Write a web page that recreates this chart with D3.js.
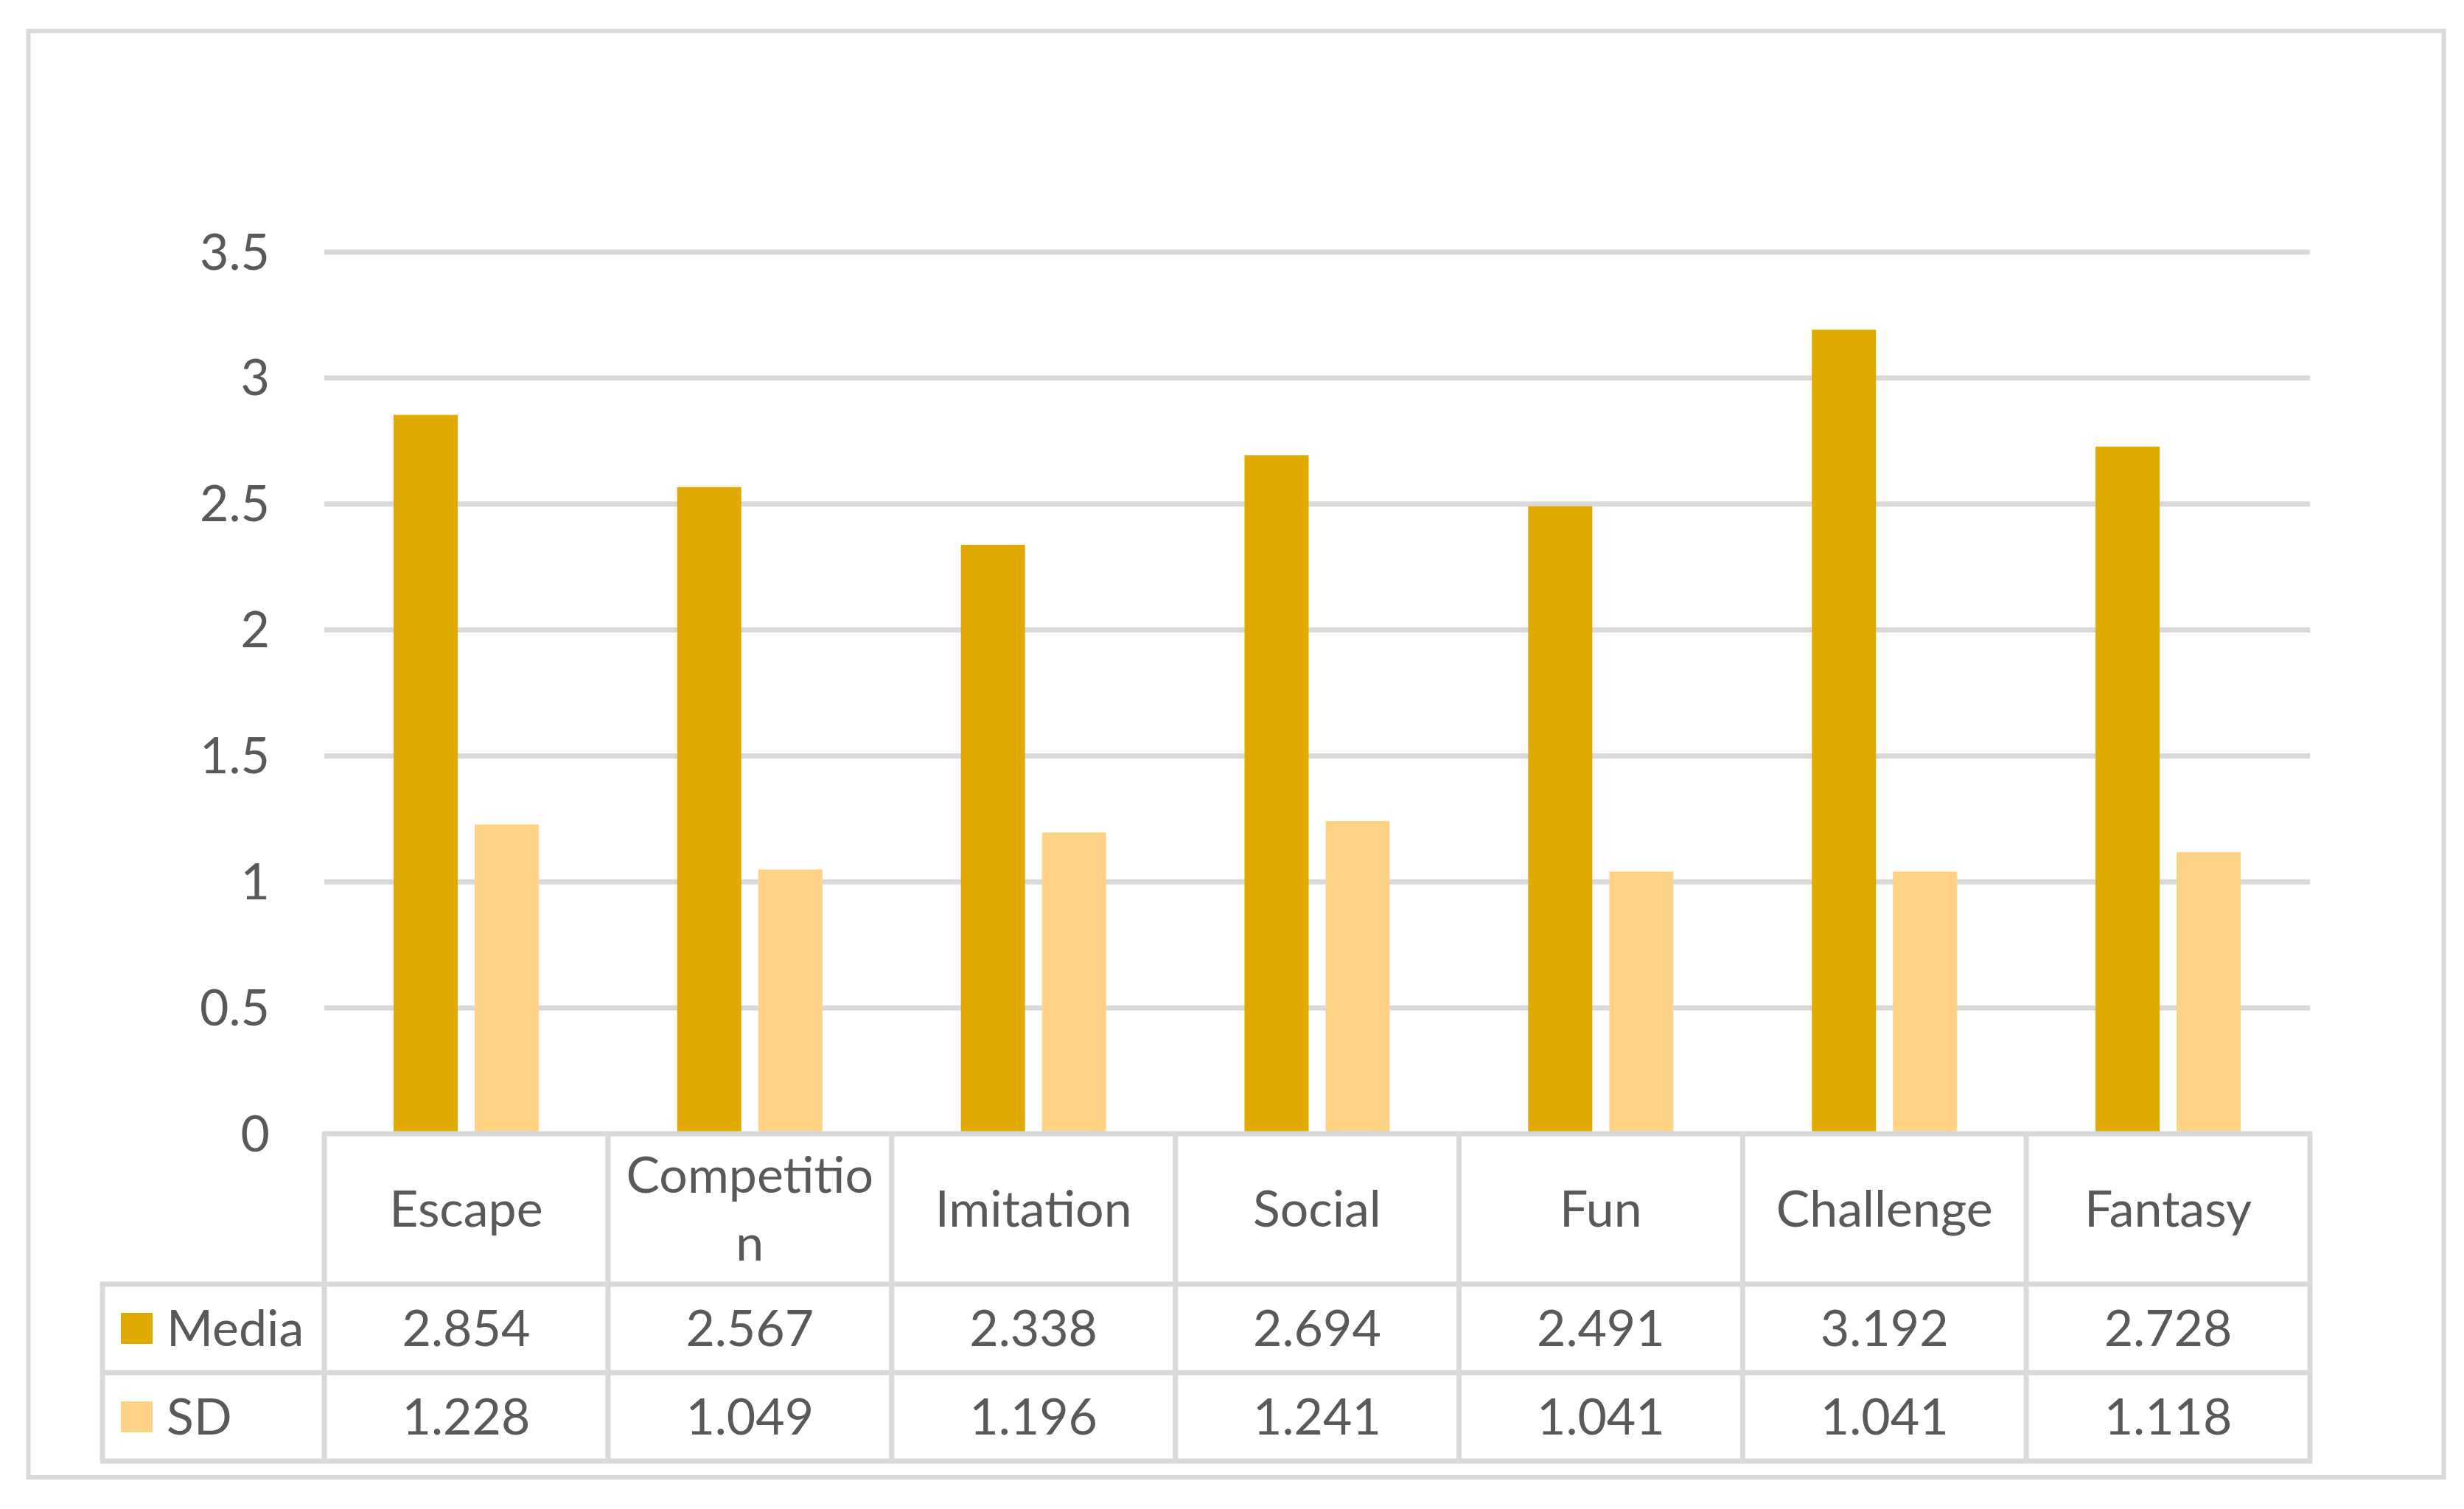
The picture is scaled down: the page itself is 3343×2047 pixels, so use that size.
<!DOCTYPE html>
<html>
<head>
<meta charset="utf-8">
<script src="https://cdn.jsdelivr.net/npm/d3@7/dist/d3.min.js"></script>
<style>
  html, body { margin: 0; padding: 0; background: #fff; }
  svg text { font-family: Lato, "Open Sans", sans-serif; fill: #595959; }
</style>
</head>
<body>
<svg id="chart"></svg>
<script>
var categories = ['Escape', 'Competition', 'Imitation', 'Social', 'Fun', 'Challenge', 'Fantasy'];
var seriesNames = ['Media', 'SD'];
var mediaValues = [2.854, 2.567, 2.338, 2.694, 2.491, 3.192, 2.728];
var sdValues = [1.228, 1.049, 1.196, 1.241, 1.041, 1.041, 1.118];
var yTicks = [0, 0.5, 1, 1.5, 2, 2.5, 3, 3.5];

var colors = { Media: '#e1aa00', SD: '#fed386' };
var gridColor = '#d9d9d9';

var width = 3343;
var height = 2047;
var fontSize = 68;

var plot = { left: 440, right: 3134, top: 342, bottom: 1538 };
var table = { legendLeft: 139, headerBottom: 1742, rowHeight: 120 };

var svg = d3.select('#chart')
  .attr('width', width)
  .attr('height', height)
  .attr('viewBox', '0 0 ' + width + ' ' + height);

var seriesValues = { Media: mediaValues, SD: sdValues };

var x = d3.scaleBand()
  .domain(categories)
  .range([plot.left, plot.right])
  .paddingInner(0)
  .paddingOuter(0);

var groupWidth = 197;
var x1 = d3.scaleBand()
  .domain(seriesNames)
  .range([0, groupWidth])
  .paddingInner(23 / 110);

var y = d3.scaleLinear()
  .domain([0, 3.5])
  .range([plot.bottom, plot.top]);

// outer chart border
svg.append('rect')
  .attr('x', 38.5).attr('y', 42)
  .attr('width', 3277).attr('height', 1962)
  .attr('fill', 'none')
  .attr('stroke', gridColor)
  .attr('stroke-width', 6);

// gridlines (the zero line is drawn by the table)
svg.append('g')
  .selectAll('line')
  .data(yTicks.filter(function(t) { return t > 0; }))
  .enter().append('line')
  .attr('x1', plot.left).attr('x2', plot.right)
  .attr('y1', function(t) { return y(t); })
  .attr('y2', function(t) { return y(t); })
  .attr('stroke', gridColor)
  .attr('stroke-width', 7);

// y axis labels
var yAxis = d3.axisLeft(y).tickValues(yTicks).tickSize(0).tickPadding(0)
  .tickFormat(function(t) { return String(t); });
var yAxisG = svg.append('g')
  .attr('transform', 'translate(366,0)')
  .call(yAxis);
yAxisG.select('.domain').remove();
yAxisG.selectAll('text')
  .attr('font-size', fontSize)
  .attr('font-family', 'Lato, "Open Sans", sans-serif')
  .attr('fill', '#595959')
  .attr('dy', '0.34em');

// bars
var groups = svg.append('g')
  .selectAll('g')
  .data(categories)
  .enter().append('g')
  .attr('transform', function(c) { return 'translate(' + (x(c) + (x.bandwidth() - groupWidth) / 2) + ',0)'; });

groups.selectAll('rect')
  .data(function(c, i) {
    return seriesNames.map(function(s) { return { series: s, value: seriesValues[s][i] }; });
  })
  .enter().append('rect')
  .attr('x', function(d) { return x1(d.series); })
  .attr('width', x1.bandwidth())
  .attr('y', function(d) { return y(d.value); })
  .attr('height', function(d) { return y(0) - y(d.value); })
  .attr('fill', function(d) { return colors[d.series]; });

// data table
var tableG = svg.append('g');
var rowTop = function(i) { return table.headerBottom + i * table.rowHeight; };
var tableBottom = rowTop(seriesNames.length);

var hLines = [
  { x1: plot.left, x2: plot.right, y: plot.bottom },
  { x1: table.legendLeft, x2: plot.right, y: rowTop(0) },
  { x1: table.legendLeft, x2: plot.right, y: rowTop(1) },
  { x1: table.legendLeft, x2: plot.right, y: tableBottom }
];
tableG.selectAll('line.h')
  .data(hLines)
  .enter().append('line')
  .attr('class', 'h')
  .attr('x1', function(d) { return d.x1 - 3; })
  .attr('x2', function(d) { return d.x2 + 3; })
  .attr('y1', function(d) { return d.y; })
  .attr('y2', function(d) { return d.y; })
  .attr('stroke', gridColor)
  .attr('stroke-width', 7);

var vLines = categories.map(function(c) { return { x: x(c), top: plot.bottom }; });
vLines.push({ x: plot.right, top: plot.bottom });
vLines.push({ x: table.legendLeft, top: rowTop(0) });
tableG.selectAll('line.v')
  .data(vLines)
  .enter().append('line')
  .attr('class', 'v')
  .attr('x1', function(d) { return d.x; })
  .attr('x2', function(d) { return d.x; })
  .attr('y1', function(d) { return d.top; })
  .attr('y2', tableBottom)
  .attr('stroke', gridColor)
  .attr('stroke-width', 7);

// category headers, wrapped by character when too wide for the cell
var headerMid = (plot.bottom + rowTop(0)) / 2;
var lineHeight = 92;
var maxLabel = x.bandwidth() - 30;

var headers = tableG.selectAll('text.header')
  .data(categories)
  .enter().append('text')
  .attr('class', 'header')
  .attr('text-anchor', 'middle')
  .attr('font-size', fontSize)
  .attr('x', function(c) { return x(c) + x.bandwidth() / 2; });

headers.each(function(c) {
  var el = d3.select(this);
  var lines = [];
  var current = '';
  el.text(c);
  if (this.getComputedTextLength() <= maxLabel) {
    lines = [c];
  } else {
    for (var i = 0; i < c.length; i++) {
      el.text(current + c[i]);
      if (this.getComputedTextLength() > maxLabel && current.length) {
        lines.push(current);
        current = c[i];
      } else {
        current += c[i];
      }
    }
    lines.push(current);
  }
  el.text(null);
  var first = headerMid + 24 - (lines.length - 1) * lineHeight / 2;
  lines.forEach(function(l, k) {
    el.append('tspan')
      .attr('x', el.attr('x'))
      .attr('y', first + k * lineHeight)
      .text(l);
  });
});

// value rows with legend keys
seriesNames.forEach(function(s, i) {
  var mid = rowTop(i) + table.rowHeight / 2;

  tableG.append('rect')
    .attr('x', 164).attr('y', mid - 21)
    .attr('width', 43).attr('height', 42)
    .attr('fill', colors[s]);

  tableG.append('text')
    .attr('x', 226).attr('y', mid + 24)
    .attr('font-size', fontSize)
    .text(s);

  tableG.selectAll('text.v' + i)
    .data(seriesValues[s])
    .enter().append('text')
    .attr('class', 'v' + i)
    .attr('text-anchor', 'middle')
    .attr('font-size', fontSize)
    .attr('x', function(v, j) { return x(categories[j]) + x.bandwidth() / 2; })
    .attr('y', mid + 24)
    .text(function(v) { return d3.format('.3f')(v); });
});
</script>
</body>
</html>
